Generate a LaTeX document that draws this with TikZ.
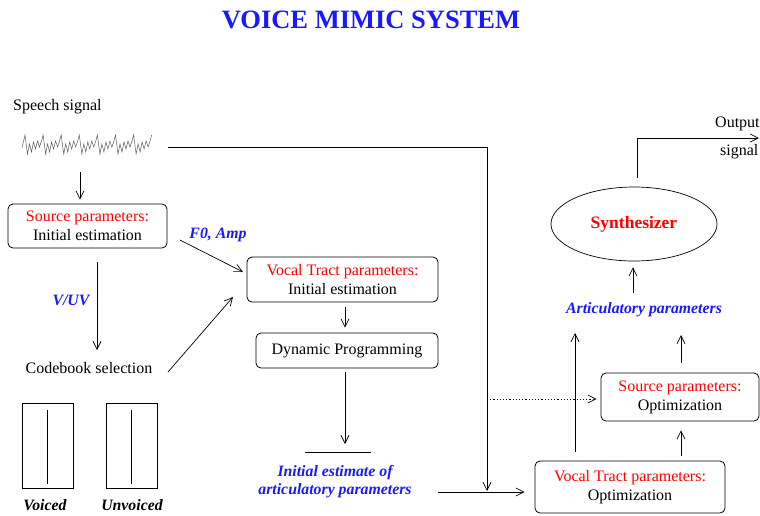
\documentclass[tikz,border=0pt]{standalone}
\usepackage{fontspec}
\setmainfont{Liberation Serif}
\usetikzlibrary{arrows.meta,shapes.geometric}
\definecolor{tblue}{RGB}{25,25,255}
\definecolor{tred}{RGB}{255,0,0}
\begin{document}
\begin{tikzpicture}[x=1pt,y=-1pt,
  every node/.style={font=\fontsize{16}{19}\selectfont, inner sep=0pt},
  box/.style={draw, rounded corners=5pt, align=center, line width=0.8pt},
  arr/.style={-{Straight Barb[length=8pt,width=8pt]}, line width=0.7pt},
  ln/.style={line width=0.7pt},
  lbl/.style={text=tblue, font=\fontsize{15.8}{18}\selectfont\bfseries\itshape, align=center},
  blbl/.style={font=\fontsize{15.8}{18}\selectfont\bfseries\itshape},
  redt/.style={text=tred}]
\path[use as bounding box] (0,0) rectangle (760,515);

\node[text=tblue, font=\fontsize{26.5}{30}\selectfont\bfseries] (title) at (371,20) {VOICE MIMIC SYSTEM};

\node[anchor=west] (speech) at (13,107) {Speech signal};

% waveform
\draw[gray!75!black, line width=0.5pt] (22,148) -- (25,135) \foreach \i in {1,...,7}{
  -- ++(2.5,19) -- ++(2,-10) -- ++(2,8) -- ++(2,-10) -- ++(2,7) -- ++(2,-8)
  -- ++(2,6) -- ++(2,-6) -- ++(1.6,-6)};

\coordinate (sigout) at (168,147);
\coordinate (sigturn) at (487,147);
\coordinate (sigend) at (487,491);
\draw[arr] (sigout) -- (sigturn) -- (sigend);

% source parameters initial
\node[box, minimum width=159, minimum height=44] (src) at (87.5,226)
  {\textcolor{tred}{Source parameters:}\\Initial estimation};
\coordinate (wavebot) at (80,172);
\draw[arr, shorten >=4pt] (wavebot) -- (wavebot |- src.north);

% codebook
\node (cb) at (89,368) {Codebook selection};
\coordinate (vuvtop) at (97,262);
\coordinate (cbtop) at (97,350);
\draw[arr] (vuvtop) -- (cbtop);
\node[lbl] (vuv) at (71,300) {V/UV};

\node[draw, ln, minimum width=51, minimum height=85] (voiced) at (47.5,445.5) {};
\node[draw, ln, minimum width=51, minimum height=85] (unvoiced) at (131.5,445.5) {};
\draw[ln] ([yshift=-7pt]voiced.north) -- ([yshift=4pt]voiced.south);
\draw[ln] ([yshift=-7pt]unvoiced.north) -- ([yshift=4pt]unvoiced.south);
\node[blbl] (vlab) at (45,505) {Voiced};
\node[blbl] (uvlab) at (132,505) {Unvoiced};

% vocal tract initial
\node[box, minimum width=191, minimum height=45] (vti) at (342.5,279.5)
  {\textcolor{tred}{Vocal Tract parameters:}\\Initial estimation};
\coordinate (srcout) at (180,240);
\coordinate (vtiin1) at (243,272);
\draw[arr] (srcout) -- (vtiin1);
\node[lbl] (f0) at (218,235) {F0, Amp};
\coordinate (cbout) at (168,372);
\coordinate (vtiin2) at (233,297);
\draw[arr] (cbout) -- (vtiin2);

% dynamic programming
\node[box, minimum width=182, minimum height=35] (dp) at (347,350.5) {Dynamic Programming};
\draw[arr, shorten <=5pt, shorten >=5pt] (vti.south -| 345,0) -- (dp.north -| 345,0);
\coordinate (barL) at (305,452);
\coordinate (barR) at (371,452);
\coordinate (barM) at (345,452);
\draw[ln] (barL) -- (barR);
\draw[arr, shorten <=4pt, shorten >=8pt] (dp.south -| barM) -- (barM);
\node[lbl] (ie) at (335,482) {Initial estimate of\\articulatory parameters};

% vocal tract optimization
\node[box, minimum width=190, minimum height=52] (vto) at (630,487)
  {\textcolor{tred}{Vocal Tract parameters:}\\Optimization};
\coordinate (ieout) at (438,492);
\draw[arr, shorten >=10pt] (ieout) -- (vto.west |- ieout);

% source optimization
\node[box, minimum width=158, minimum height=48] (so) at (680,397)
  {\textcolor{tred}{Source parameters:}\\Optimization};
\draw[arr, dash pattern=on 1.2pt off 2pt, shorten >=4pt] (sigturn |- 0,399) -- (so.west |- 0,399);
\draw[arr, shorten <=5pt, shorten >=9pt] (vto.north -| 681,0) -- (so.south -| 681,0);

\coordinate (ap1) at (575,333);
\draw[arr, shorten <=9pt] (vto.north -| ap1) -- (ap1);
\coordinate (ap2) at (681,335);
\draw[arr, shorten <=10pt] (so.north -| ap2) -- (ap2);
\node[lbl] (artp) at (644,310) {Articulatory parameters};

% synthesizer
\node[draw, ln, ellipse, minimum width=166, minimum height=74, text=tred,
  font=\fontsize{17.5}{20}\selectfont\bfseries] (syn) at (634,224) {Synthesizer};
\coordinate (apout) at (633,293);
\draw[arr, shorten >=6pt] (apout) -- (apout |- syn.south);
\coordinate (outturn) at (637,138);
\coordinate (outend) at (759,138);
\draw[arr, shorten <=9pt] (syn.north -| outturn) -- (outturn) -- (outend);
\node[anchor=west] (outlab) at (715,124) {Output};
\node[anchor=west] (siglab) at (720,152) {signal};
\end{tikzpicture}
\end{document}
